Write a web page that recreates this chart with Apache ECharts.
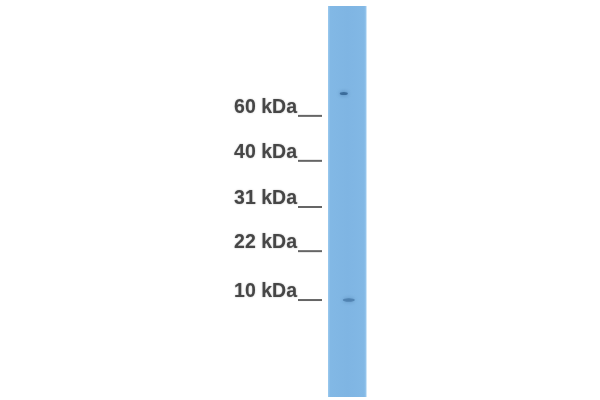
<!DOCTYPE html>
<html>
<head>
<meta charset="utf-8">
<script src="https://cdn.jsdelivr.net/npm/echarts@6/dist/echarts.min.js"></script>
<style>
html, body { margin: 0; padding: 0; background: #ffffff; }
#main { width: 600px; height: 400px; }
</style>
</head>
<body>
<div id="main"></div>
<script>
// marker ladder (migration as % of lane length from the top)
var markerNames = ['60 kDa', '40 kDa', '31 kDa', '22 kDa', '10 kDa'];
var markerMigration = [28.1, 39.6, 51.4, 62.7, 75.2];

// detected bands in the lane: position across lane (0-1), migration %, intensity
var bandAcross = [0.41, 0.54];
var bandMigration = [22.4, 75.2];
var bandIntensity = [0.8, 0.5];

var myChart = echarts.init(document.getElementById('main'));

var markerData = [];
for (var i = 0; i < markerNames.length; i++) {
    markerData.push({ name: markerNames[i], value: [0, markerMigration[i]] });
}
var bandData = [];
for (var j = 0; j < bandAcross.length; j++) {
    bandData.push({
        value: [bandAcross[j], bandMigration[j]],
        symbolSize: j == 0 ? [8, 3] : [12, 3.5],
        itemStyle: { opacity: bandIntensity[j] }
    });
}

myChart.setOption({
    backgroundColor: '#ffffff',
    animation: false,
    grid: {
        left: 328, right: 233.5, top: 6, bottom: 3,
        show: true,
        borderWidth: 0,
        backgroundColor: new echarts.graphic.LinearGradient(0, 0, 1, 0, [
            { offset: 0, color: '#9ccaef' },
            { offset: 0.06, color: '#82b8e5' },
            { offset: 0.5, color: '#7fb5e3' },
            { offset: 0.94, color: '#82b8e5' },
            { offset: 1, color: '#9ccaef' }
        ])
    },
    xAxis: { type: 'value', min: 0, max: 1, show: false },
    yAxis: { type: 'value', min: 0, max: 100, inverse: true, show: false },
    series: [
        {
            // ladder ticks with their labels
            type: 'scatter',
            data: markerData,
            symbol: 'rect',
            symbolSize: [24, 2],
            symbolOffset: [-18, 0],
            clip: false,
            itemStyle: { color: '#4a4a4a', opacity: 0.85 },
            label: {
                show: true,
                formatter: '{b}',
                position: [-1, -7.5],
                align: 'right',
                verticalAlign: 'middle',
                fontFamily: 'Liberation Sans',
                fontWeight: 'bold',
                fontSize: 19.5,
                color: '#333333',
                textShadowColor: 'rgba(0,0,0,0.4)',
                textShadowBlur: 1.5
            },
            silent: true
        },
        {
            // bands
            type: 'scatter',
            data: bandData,
            symbol: 'circle',
            itemStyle: {
                color: '#2f5f8f',
                shadowColor: '#3c6d9c',
                shadowBlur: 4
            },
            silent: true
        }
    ]
});
</script>
</body>
</html>
